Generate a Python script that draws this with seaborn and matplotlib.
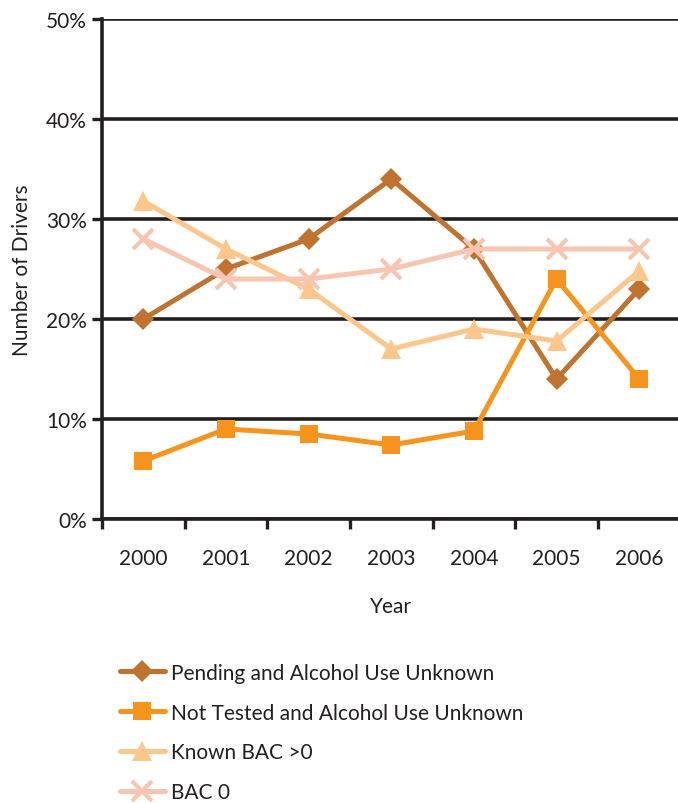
import matplotlib
matplotlib.use("Agg")
import matplotlib.pyplot as plt
import seaborn as sns
import pandas as pd
from matplotlib.ticker import FuncFormatter

years = ["2000", "2001", "2002", "2003", "2004", "2005", "2006"]
series_names = ["Pending and Alcohol Use Unknown", "Not Tested and Alcohol Use Unknown",
                "Known BAC >0", "BAC 0"]
pending = [20, 25, 28, 34, 27, 14, 23]
not_tested = [5.8, 9.0, 8.5, 7.4, 8.8, 24, 14]
known_bac = [31.8, 27, 23, 17, 19, 17.8, 24.8]
bac0 = [28, 24, 24, 25, 27, 27, 27]

colors = ["#C0722F", "#F7941E", "#FDC68A", "#F8C6B0"]
markers = ["D", "s", "^", "x"]
msizes = [11, 13, 14, 14]

rows = []
for name, vals in zip(series_names, [pending, not_tested, known_bac, bac0]):
    for i, v in enumerate(vals):
        rows.append({"idx": i, "value": v, "series": name})
df = pd.DataFrame(rows)

sns.set_style("white")
plt.rcParams["font.family"] = ["Lato", "DejaVu Sans"]
FS = 15
TXT = "#231F20"

fig = plt.figure(figsize=(6.78, 8.04), dpi=100)
ax = fig.add_axes([102 / 678, 1 - 520 / 804, 578.5 / 678, 500 / 804])

for name, c, m, ms in zip(series_names, colors, markers, msizes):
    sub = df[df["series"] == name]
    sns.lineplot(data=sub, x="idx", y="value", ax=ax, color=c, marker=m,
                 markersize=ms, linewidth=3.6, markeredgewidth=3 if m == "x" else 0,
                 markeredgecolor=c, label=name, legend=False, zorder=3)

ax.set_xlim(-0.5, 6.5)
ax.set_ylim(0, 50)
ax.set_yticks([0, 10, 20, 30, 40, 50])
ax.yaxis.set_major_formatter(FuncFormatter(lambda v, p: f"{int(v)}%"))
ax.set_xticks(range(7))
ax.set_xticklabels(years)
ax.set_xticks([i - 0.5 for i in range(8)], minor=True)
ax.tick_params(axis="x", which="both", bottom=True)
ax.tick_params(axis="y", which="both", left=True)
ax.tick_params(axis="x", which="major", length=0, pad=21, labelsize=FS, colors=TXT)
ax.tick_params(axis="x", which="minor", length=7, width=2.4, direction="out", color=TXT)
ax.tick_params(axis="y", which="major", length=7, width=2.4, direction="out",
               color=TXT, labelsize=FS, pad=4, labelcolor=TXT)
ax.grid(axis="y", color=TXT, linewidth=2.6, zorder=1)
ax.set_axisbelow(True)
for s in ["top", "right"]:
    ax.spines[s].set_visible(False)
for s in ["left", "bottom"]:
    ax.spines[s].set_color(TXT)
    ax.spines[s].set_linewidth(2.6)
ax.set_xlabel("Year", fontsize=FS, color=TXT, labelpad=20)
ax.set_ylabel("Number of Drivers", fontsize=FS, color=TXT, labelpad=10)

handles, labels = ax.get_legend_handles_labels()
fig.legend(handles, labels, loc="upper left", bbox_to_anchor=(101 / 678, 1 - 645 / 804),
           frameon=False, fontsize=FS, handlelength=2.15, labelspacing=0.95,
           handletextpad=0.3, labelcolor=TXT)

fig.savefig("out.png", dpi=100)
